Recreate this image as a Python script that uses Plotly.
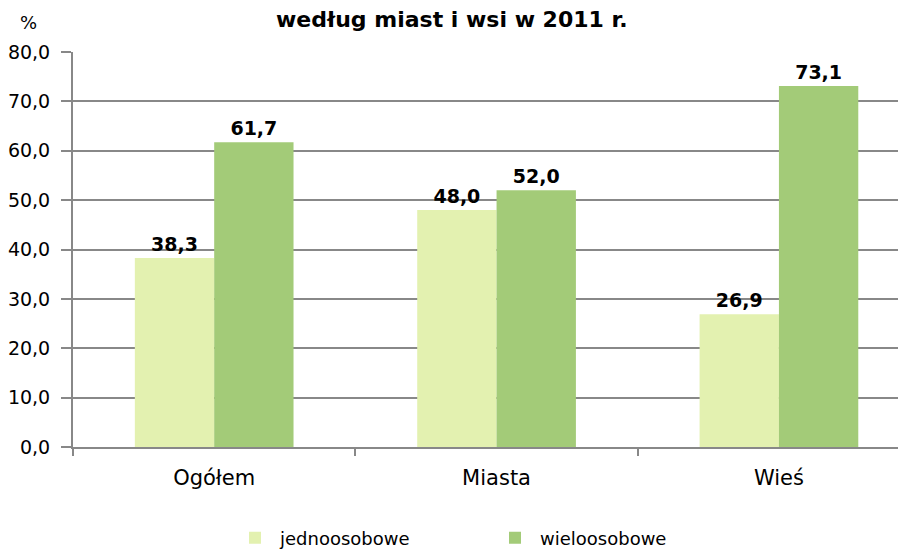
import plotly.graph_objects as go

categories = ["Ogółem", "Miasta", "Wieś"]
jednoosobowe = [38.3, 48.0, 26.9]
wieloosobowe = [61.7, 52.0, 73.1]
series_names = ["jednoosobowe", "wieloosobowe"]
y_ticks = [0, 10, 20, 30, 40, 50, 60, 70, 80]
title_text = "według miast i wsi w 2011 r."

FONT = "DejaVu Sans, Liberation Sans, Arial, sans-serif"
GRID = "#888888"

# page body has an 8px margin: figure coords = screen coords - 8
OFF = 8
L, R, T, B = 73 - OFF, 906 - OFF, 52 - OFF, 447 - OFF
PW, PH = R - L, B - T

def px_x(sx):
    return (sx - OFF - L) / PW

def px_y(sy):
    return (B - (sy - OFF)) / PH

fig = go.Figure()
for name, vals, col in [(series_names[0], jednoosobowe, "#E3F1B0"),
                        (series_names[1], wieloosobowe, "#A3CB78")]:
    fig.add_trace(go.Bar(
        x=categories, y=vals, name=name,
        marker=dict(color=col, line=dict(width=0)),
        texttemplate="<b>%{y:.1f}</b>", textposition="outside",
        textfont=dict(size=19, color="black", family=FONT),
        cliponaxis=False,
    ))

fig.update_layout(
    width=906, height=550,
    margin=dict(l=L, r=906 - R, t=T, b=550 - B, autoexpand=False),
    paper_bgcolor="white", plot_bgcolor="white",
    separators=", ",
    barmode="group", bargap=0.438, bargroupgap=0,
    font=dict(family=FONT, size=18, color="black"),
    showlegend=True,
    legend=dict(orientation="h", x=px_x(230), xanchor="left",
                y=px_y(538), yanchor="middle",
                font=dict(size=18, family=FONT), itemwidth=40,
                entrywidth=205, entrywidthmode="pixels"),
    xaxis=dict(type="category", range=[-0.5, 2.45], tickson="boundaries",
               ticks="outside", ticklen=7, tickwidth=2, tickcolor=GRID,
               showline=True, linecolor=GRID, linewidth=2,
               showgrid=False, ticklabelstandoff=11, automargin=False,
               tickfont=dict(size=21, family=FONT)),
    yaxis=dict(range=[0, 80], tickvals=y_ticks, tickformat=".1f",
               ticks="outside", ticklen=10, tickwidth=2, tickcolor=GRID,
               showline=True, linecolor=GRID, linewidth=2,
               showgrid=True, gridcolor=GRID, gridwidth=2,
               zeroline=False, ticklabelstandoff=7, automargin=False,
               tickfont=dict(size=19, family=FONT)),
    annotations=[
        dict(text="<b>" + title_text + "</b>", xref="paper", yref="paper",
             x=px_x(452), y=px_y(19), xanchor="center", yanchor="middle",
             showarrow=False, font=dict(size=22, family=FONT, color="black")),
        dict(text="%", xref="paper", yref="paper",
             x=px_x(28), y=px_y(22), xanchor="center", yanchor="middle",
             showarrow=False, font=dict(size=18, family=FONT)),
    ],
)

fig.write_html("out.html")
